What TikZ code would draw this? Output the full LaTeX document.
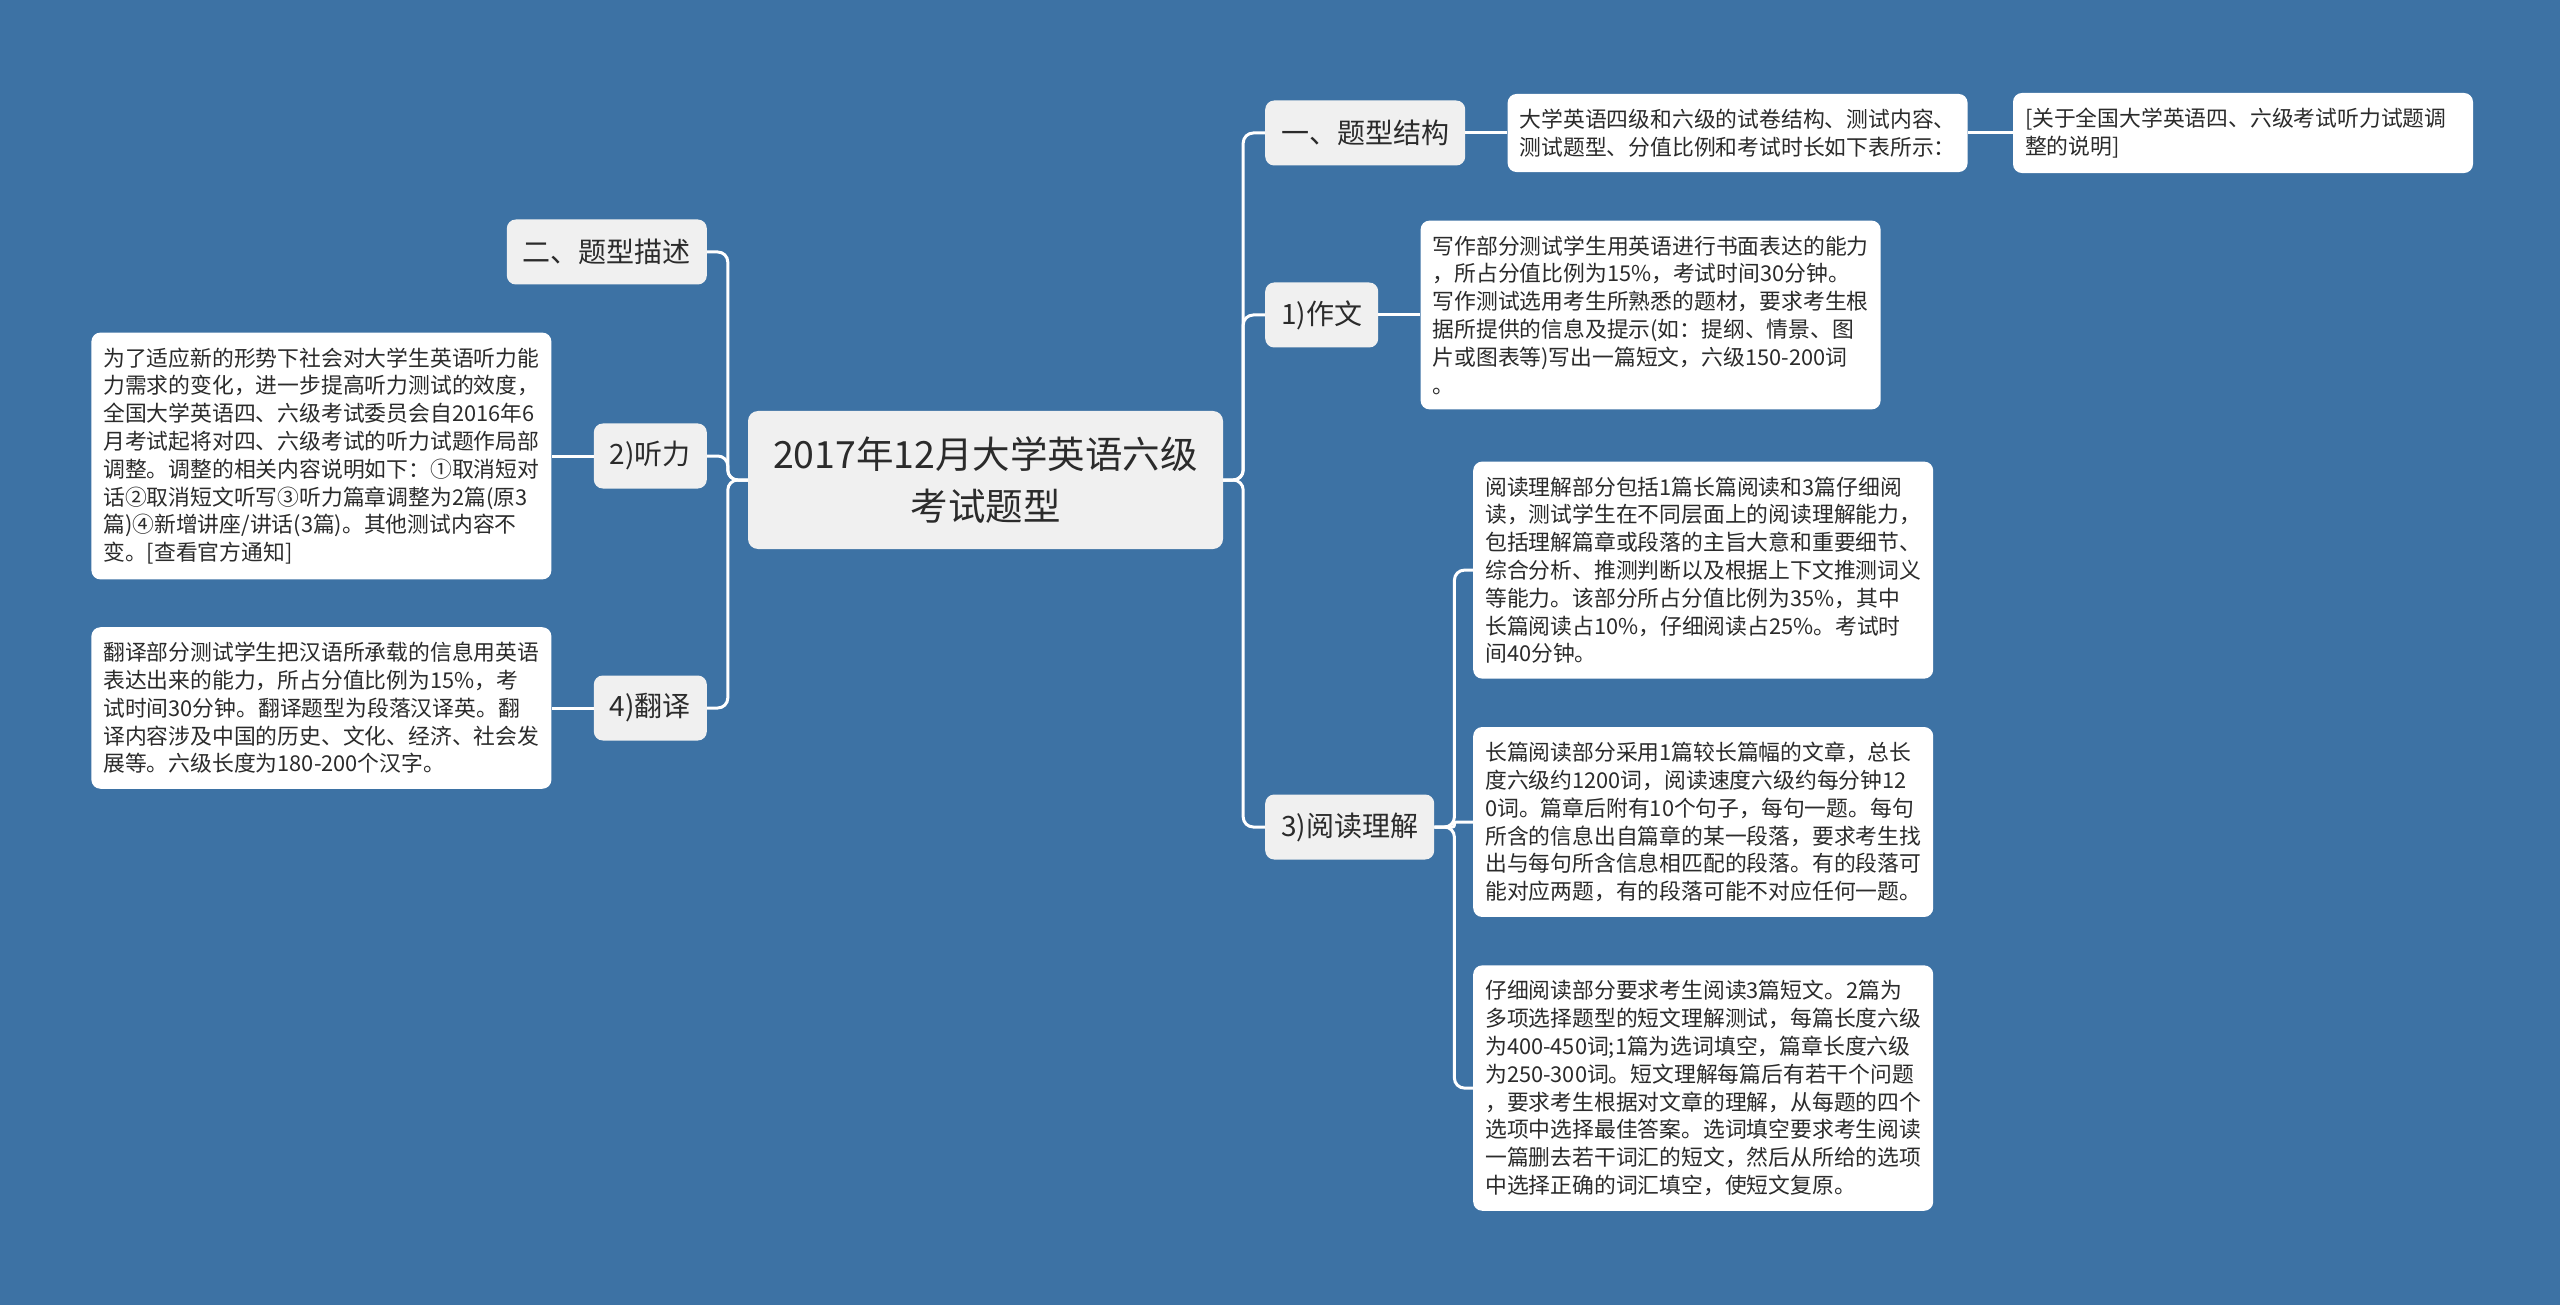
\documentclass[tikz,border=0pt]{standalone}
\usepackage{fontspec}
\setmainfont{Noto Sans CJK SC}
\usepackage{tikz}
\usetikzlibrary{positioning}

\definecolor{bgblue}{HTML}{3D72A4}
\definecolor{subgray}{HTML}{F0F0F0}
\definecolor{inkgray}{HTML}{2B2B2B}

\begin{document}
\begin{tikzpicture}[x=1pt, y=-1pt, node distance=42pt,
    topic/.style={rectangle, rounded corners=10pt, fill=subgray, text=inkgray, minimum width=475pt, minimum height=138pt, align=center, font=\fontsize{37.5}{52}\selectfont},
    sub/.style={rectangle, rounded corners=9pt, fill=subgray, text=inkgray, minimum height=65pt, inner xsep=16pt, font=\fontsize{28}{33}\selectfont},
    note/.style={rectangle, rounded corners=9pt, fill=white, text=inkgray, text width=436pt, inner xsep=12pt, inner ysep=15pt, align=left, font=\fontsize{21.8}{27.8}\selectfont},
    link/.style={draw=white, line width=3pt, rounded corners=10pt},
    toR/.style={to path={(\tikztostart.east) -- ++(20,0) |- (\tikztotarget.west)}},
    toL/.style={to path={(\tikztostart.west) -- ++(-20,0) |- (\tikztotarget.east)}}]
                \useasboundingbox (0,0) rectangle (2560,1305);
                \fill[bgblue] (0,0) rectangle (2560,1305);

                \node[topic] (main) at (985.5,480) {2017年12月大学英语六级\\考试题型};

                \node[sub, anchor=west] (jiegou) at (1265,133) {一、题型结构};
                \node[sub, anchor=west] (zuowen) at (1265,315) {1)作文};
                \node[sub, anchor=west] (yuedu) at (1265,827) {3)阅读理解};
                \node[sub, anchor=east] (miaoshu) at (707,252) {二、题型描述};
                \node[sub, anchor=east] (tingli) at (707,456) {2)听力};
                \node[sub, anchor=east] (fanyi) at (707,708) {4)翻译};

                \node[note, right=of jiegou] (jiegouA) {大学英语四级和六级的试卷结构、测试内容、\\测试题型、分值比例和考试时长如下表所示：};
                \node[note, right=45pt of jiegouA] (jiegouB) {[关于全国大学英语四、六级考试听力试题调\\整的说明]};
                \node[note, right=of zuowen] (zuowenT) {写作部分测试学生用英语进行书面表达的能力\\，所占分值比例为15\%，考试时间30分钟。\\写作测试选用考生所熟悉的题材，要求考生根\\据所提供的信息及提示(如：提纲、情景、图\\片或图表等)写出一篇短文，六级150-200词\\。};
                \node[note, left=of tingli] (tingliT) {为了适应新的形势下社会对大学生英语听力能\\力需求的变化，进一步提高听力测试的效度，\\全国大学英语四、六级考试委员会自2016年6\\月考试起将对四、六级考试的听力试题作局部\\调整。调整的相关内容说明如下：①取消短对\\话②取消短文听写③听力篇章调整为2篇(原3\\篇)④新增讲座/讲话(3篇)。其他测试内容不\\变。[查看官方通知]};
                \node[note, left=of fanyi] (fanyiT) {翻译部分测试学生把汉语所承载的信息用英语\\表达出来的能力，所占分值比例为15\%，考\\试时间30分钟。翻译题型为段落汉译英。翻\\译内容涉及中国的历史、文化、经济、社会发\\展等。六级长度为180-200个汉字。};

                \node[note, anchor=west] (yueduB) at (1473,822) {长篇阅读部分采用1篇较长篇幅的文章，总长\\度六级约1200词，阅读速度六级约每分钟12\\0词。篇章后附有10个句子，每句一题。每句\\所含的信息出自篇章的某一段落，要求考生找\\出与每句所含信息相匹配的段落。有的段落可\\能对应两题，有的段落可能不对应任何一题。};
                \node[note, above=48pt of yueduB] (yueduA) {阅读理解部分包括1篇长篇阅读和3篇仔细阅\\读，测试学生在不同层面上的阅读理解能力，\\包括理解篇章或段落的主旨大意和重要细节、\\综合分析、推测判断以及根据上下文推测词义\\等能力。该部分所占分值比例为35\%，其中\\长篇阅读占10\%，仔细阅读占25\%。考试时\\间40分钟。};
                \node[note, below=48pt of yueduB] (yueduC) {仔细阅读部分要求考生阅读3篇短文。2篇为\\多项选择题型的短文理解测试，每篇长度六级\\为400-450词;1篇为选词填空，篇章长度六级\\为250-300词。短文理解每篇后有若干个问题\\，要求考生根据对文章的理解，从每题的四个\\选项中选择最佳答案。选词填空要求考生阅读\\一篇删去若干词汇的短文，然后从所给的选项\\中选择正确的词汇填空，使短文复原。};

                \path[link]
                    (main) edge[toR] (jiegou)
                    (main) edge[toR] (zuowen)
                    (main) edge[toR] (yuedu)
                    (main) edge[toL] (miaoshu)
                    (main) edge[toL] (tingli)
                    (main) edge[toL] (fanyi)
                    (jiegou.east) edge (jiegouA.west)
                    (jiegouA.east) edge (jiegouB.west)
                    (zuowen.east) edge (zuowenT.west)
                    (tingli.west) edge (tingliT.east)
                    (fanyi.west) edge (fanyiT.east)
                    (yuedu) edge[toR] (yueduA)
                    (yuedu) edge[toR, rounded corners=2pt] (yueduB)
                    (yuedu) edge[toR] (yueduC)
                    ;
            \end{tikzpicture}
\end{document}
